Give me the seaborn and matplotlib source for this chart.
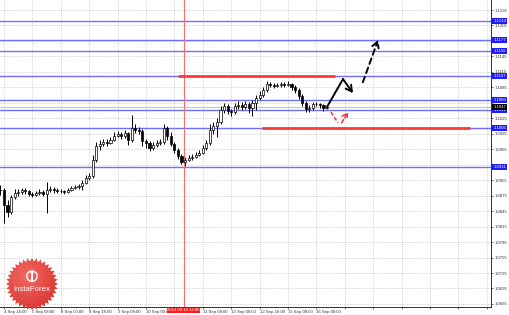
import numpy as np
import pandas as pd
import matplotlib
matplotlib.use("Agg")
import matplotlib.pyplot as plt
import matplotlib.transforms as mtransforms
from matplotlib.patches import Polygon
import seaborn as sns

# ---------------- data (EURUSD-like, 2h bars) ----------------
first_open = 1.0886
closes = [1.0886, 1.0857, 1.0843, 1.0872, 1.0880, 1.0882, 1.0886, 1.0884, 1.0878, 1.0876,
          1.0880, 1.0882, 1.0878, 1.0886, 1.0888, 1.0886, 1.0884, 1.0884, 1.0882, 1.0886,
          1.0890, 1.0892, 1.0894, 1.0900, 1.0909, 1.0913, 1.0944, 1.0971, 1.0975, 1.0979,
          1.0977, 1.0983, 1.0991, 1.0994, 1.0991, 1.0996, 1.0983, 1.1006, 1.1002, 1.1000,
          1.0981, 1.0977, 1.0967, 1.0973, 1.0977, 1.0979, 1.1006, 1.0991, 1.0975, 1.0963,
          1.0952, 1.0940, 1.0944, 1.0948, 1.0950, 1.0954, 1.0958, 1.0967, 1.0977, 1.1002,
          1.1010, 1.1018, 1.1041, 1.1049, 1.1039, 1.1037, 1.1049, 1.1051, 1.1047, 1.1053,
          1.1045, 1.1055, 1.1064, 1.1070, 1.1080, 1.1091, 1.1090, 1.1088, 1.1090, 1.1091,
          1.1090, 1.1091, 1.1086, 1.1080, 1.1068, 1.1055, 1.1043, 1.1045, 1.1053, 1.1053,
          1.1051, 1.1045, 1.1047]
highs = [1.0896, 1.0890, 1.0867, 1.0876, 1.0888, 1.0888, 1.0890, 1.0890, 1.0886, 1.0882,
         1.0884, 1.0888, 1.0886, 1.0901, 1.0894, 1.0892, 1.0890, 1.0888, 1.0886, 1.0890,
         1.0894, 1.0896, 1.0898, 1.0905, 1.0915, 1.0919, 1.0954, 1.0979, 1.0983, 1.0985,
         1.0985, 1.0989, 1.0998, 1.1000, 1.0998, 1.1002, 1.0998, 1.1031, 1.1014, 1.1008,
         1.1004, 1.0985, 1.0981, 1.0979, 1.0983, 1.0985, 1.1014, 1.1010, 1.0998, 1.0979,
         1.0967, 1.0956, 1.0950, 1.0954, 1.0956, 1.0960, 1.0963, 1.0973, 1.0983, 1.1014,
         1.1018, 1.1026, 1.1049, 1.1055, 1.1053, 1.1043, 1.1055, 1.1058, 1.1057, 1.1058,
         1.1057, 1.1060, 1.1070, 1.1078, 1.1086, 1.1097, 1.1095, 1.1093, 1.1093, 1.1095,
         1.1095, 1.1097, 1.1093, 1.1090, 1.1084, 1.1072, 1.1058, 1.1051, 1.1057, 1.1057,
         1.1055, 1.1053, 1.1051]
lows = [1.0876, 1.0822, 1.0834, 1.0840, 1.0869, 1.0874, 1.0878, 1.0878, 1.0874, 1.0872,
        1.0874, 1.0876, 1.0874, 1.0841, 1.0882, 1.0880, 1.0880, 1.0880, 1.0878, 1.0880,
        1.0884, 1.0888, 1.0888, 1.0886, 1.0898, 1.0905, 1.0909, 1.0940, 1.0963, 1.0971,
        1.0971, 1.0975, 1.0981, 1.0989, 1.0985, 1.0987, 1.0973, 1.0979, 1.0996, 1.0994,
        1.0971, 1.0967, 1.0961, 1.0963, 1.0969, 1.0973, 1.0975, 1.0983, 1.0971, 1.0958,
        1.0946, 1.0936, 1.0933, 1.0942, 1.0944, 1.0948, 1.0952, 1.0956, 1.0963, 1.0973,
        1.0994, 1.0989, 1.1014, 1.1035, 1.1033, 1.1029, 1.1033, 1.1043, 1.1041, 1.1043,
        1.1035, 1.1029, 1.1041, 1.1060, 1.1066, 1.1076, 1.1086, 1.1084, 1.1086, 1.1086,
        1.1086, 1.1088, 1.1080, 1.1074, 1.1062, 1.1049, 1.1037, 1.1037, 1.1041, 1.1049,
        1.1045, 1.1039, 1.1043]

x_tick_labels = ["4 Sep 16:00", "5 Sep 08:00", "8 Sep 00:00", "8 Sep 16:00", "9 Sep 08:00",
                 "10 Sep 00:00", "", "11 Sep 08:00", "12 Sep 00:00", "12 Sep 16:00",
                 "15 Sep 08:00", "16 Sep 00:00"]
y_tick_labels = ["1.0665", "1.0695", "1.0725", "1.0755", "1.0785", "1.0815", "1.0845",
                 "1.0875", "1.0905", "1.0935", "1.0965", "1.0995", "1.1025", "1.1055",
                 "1.1085", "1.1115", "1.1145", "1.1175", "1.1205", "1.1235"]
hidden_y_labels = ["1.0935", "1.1055", "1.1175"]
level_lines = [1.1214, 1.1177, 1.1156, 1.1107, 1.1060, 1.1041, 1.1006, 1.0931]
current_price = 1.1047
resistance = (50.0, 94.2, 1.1107)
support = (73.7, 132.3, 1.1006)
cursor_bar = 51.6
cursor_label = "2014.09.10 12:00"
bull_x = [92.0, 96.5, 99.3]
bull_y = [1.1047, 1.1101, 1.1074]
bull_next_x = [102.1, 106.4]
bull_next_y = [1.1095, 1.1177]
bear_x = [93.1, 95.1, 96.1, 97.9]
bear_y = [1.1037, 1.1016, 1.1016, 1.1037]

# ---------------- figure ----------------
sns.set_theme(style="white")
plt.rcParams["font.family"] = ["Liberation Sans", "DejaVu Sans"]
FS = 3.1

W, H = 510, 315
fig = plt.figure(figsize=(W / 100, H / 100), dpi=100)
fig.patch.set_facecolor("white")
ax = fig.add_axes([0, 8 / H, 491 / W, 307 / H])
ax.set_facecolor("white")

n = len(closes)
opens = [first_open] + closes[:-1]
df = pd.DataFrame({"i": np.arange(n), "open": opens, "high": highs, "low": lows, "close": closes})
df["high"] = df[["high", "open", "close"]].max(axis=1)
df["low"] = df[["low", "open", "close"]].min(axis=1)

# grid
xticks = np.arange(1, 139, 8)
yticks = [float(v) for v in y_tick_labels]
for xv in xticks:
    ax.axvline(xv, color="#c4c4c4", lw=0.5, ls=(0, (1.5, 1.5)), zorder=0)
for yv in yticks:
    ax.axhline(yv, color="#c4c4c4", lw=0.5, ls=(0, (1.5, 1.5)), zorder=0)

# level lines
for lv in level_lines:
    ax.axhline(lv, color="#6f6fff", lw=1.0, zorder=1)
ax.axhline(current_price, color="#b5b5b5", lw=0.6, zorder=1)

# cursor line
ax.axvline(cursor_bar, color="#ff6a6a", lw=0.8, zorder=2)

# red horizontal segments
ax.hlines(resistance[2], resistance[0], resistance[1], color="#ff3a3a", lw=2.0, zorder=2)
ax.hlines(support[2], support[0], support[1], color="#ff3a3a", lw=2.0, zorder=2)

# candles
ax.vlines(df["i"], df["low"], df["high"], color="black", lw=0.7, zorder=3)
up = df["close"] >= df["open"]
bottom = np.minimum(df["open"], df["close"])
height = np.maximum((df["close"] - df["open"]).abs(), 0.00006)
ax.bar(df["i"][up], height[up], bottom=bottom[up], width=0.6, facecolor="white",
       edgecolor="black", linewidth=0.5, zorder=4)
ax.bar(df["i"][~up], height[~up], bottom=bottom[~up], width=0.6, facecolor="black",
       edgecolor="black", linewidth=0.5, zorder=4)

# forecast paths
sns.lineplot(x=bull_x[:2], y=bull_y[:2], ax=ax, color="black", lw=1.4, sort=False, zorder=5)
ax.annotate("", xy=(bull_x[2], bull_y[2]), xytext=(bull_x[1], bull_y[1]),
            arrowprops=dict(arrowstyle="->,head_length=0.35,head_width=0.2", color="black", lw=1.4,
                            shrinkA=0, shrinkB=0), zorder=5)
ax.annotate("", xy=(bull_next_x[1], bull_next_y[1]), xytext=(bull_next_x[0], bull_next_y[0]),
            arrowprops=dict(arrowstyle="->,head_length=0.35,head_width=0.2", color="black", lw=1.4,
                            ls=(0, (3, 2)), shrinkA=0, shrinkB=0), zorder=5)
sns.lineplot(x=bear_x[:2], y=bear_y[:2], ax=ax, color="#ff3030", lw=1.1, sort=False,
             linestyle=(0, (2.5, 1.5)), zorder=5)
ax.annotate("", xy=(bear_x[3], bear_y[3]), xytext=(bear_x[2], bear_y[2]),
            arrowprops=dict(arrowstyle="->,head_length=0.3,head_width=0.18", color="#ff3030", lw=1.1,
                            ls=(0, (2.5, 1.5)), shrinkA=0, shrinkB=0), zorder=5)

# axes limits
ax.set_xlim(-0.127, 138.2)
ax.set_ylim(1.06591, 1.12544)

# x ticks
xl = x_tick_labels + [""] * (len(xticks) - len(x_tick_labels))
ax.set_xticks(xticks)
ax.set_xticklabels(xl, fontsize=FS, color="#222222")
for t in ax.get_xticklabels():
    t.set_horizontalalignment("left")
ax.tick_params(axis="x", length=1.5, width=0.5, pad=0.3, direction="out", colors="#333333",
               bottom=True)

# y ticks on right
ax.yaxis.tick_right()
ax.set_yticks(yticks)
ax.set_yticklabels([("" if s in hidden_y_labels else s) for s in y_tick_labels],
                   fontsize=FS, color="#333333")
ax.tick_params(axis="y", length=1.5, width=0.5, pad=0.8, direction="out", colors="#333333", right=True)
ax.set_xlabel("")
ax.set_ylabel("")
for s in ["top", "left"]:
    ax.spines[s].set_visible(False)
for s in ["right", "bottom"]:
    ax.spines[s].set_visible(True)
    ax.spines[s].set_color("#333333")
    ax.spines[s].set_linewidth(0.7)

# price labels for levels
tr = mtransforms.blended_transform_factory(ax.transAxes, ax.transData)
for lv in level_lines:
    ax.text(1.0045, lv, f"{lv:.4f}", transform=tr, ha="left", va="center", fontsize=FS,
            color="white", zorder=10, clip_on=False,
            bbox=dict(boxstyle="square,pad=0.2", fc="#1c1cff", ec="none"))
ax.text(1.0045, current_price, f"{current_price:.4f}", transform=tr, ha="left", va="center",
        fontsize=FS, color="white", zorder=11, clip_on=False,
        bbox=dict(boxstyle="square,pad=0.2", fc="black", ec="none"))

# cursor time label
trx = mtransforms.blended_transform_factory(ax.transData, ax.transAxes)
ax.text(cursor_bar, -0.004, cursor_label, transform=trx, ha="center", va="top", fontsize=FS,
        color="white", zorder=10, clip_on=False,
        bbox=dict(boxstyle="square,pad=0.15", fc="#ff1a1a", ec="none"))

# InstaForex badge
cx, cy, r = 32, 284, 26
lax = fig.add_axes([(cx - r) / W, (H - cy - r) / H, 2 * r / W, 2 * r / H])
lax.set_xlim(-1, 1)
lax.set_ylim(-1, 1)
lax.axis("off")
nt = 36
ang = np.linspace(0, 2 * np.pi, 2 * nt, endpoint=False)
rad = np.where(np.arange(2 * nt) % 2 == 0, 1.0, 0.87)
poly = Polygon(np.c_[rad * np.cos(ang), rad * np.sin(ang)], closed=True, fc="none", ec="none")
lax.add_patch(poly)
gx, gy = np.meshgrid(np.linspace(-1, 1, 120), np.linspace(-1, 1, 120))
grad = np.sqrt((gx + 0.2) ** 2 + (gy - 0.3) ** 2)
cmap = matplotlib.colors.LinearSegmentedColormap.from_list("badge", ["#f26a62", "#d8302c"])
im = lax.imshow(grad, extent=(-1, 1, -1, 1), origin="lower", cmap=cmap, vmin=0, vmax=1.5)
im.set_clip_path(poly)
lax.add_patch(plt.Circle((0, 0.3), 0.2, fc="none", ec="white", lw=1.0))
lax.add_patch(plt.Rectangle((-0.05, 0.12), 0.1, 0.28, fc="white", ec="none"))
lax.add_patch(plt.Circle((0, 0.43), 0.06, fc="white", ec="none"))
lax.text(0, -0.22, "InstaForex", ha="center", va="center", fontsize=5.6, color="white")

fig.savefig("out.png", dpi=100, facecolor="white")
